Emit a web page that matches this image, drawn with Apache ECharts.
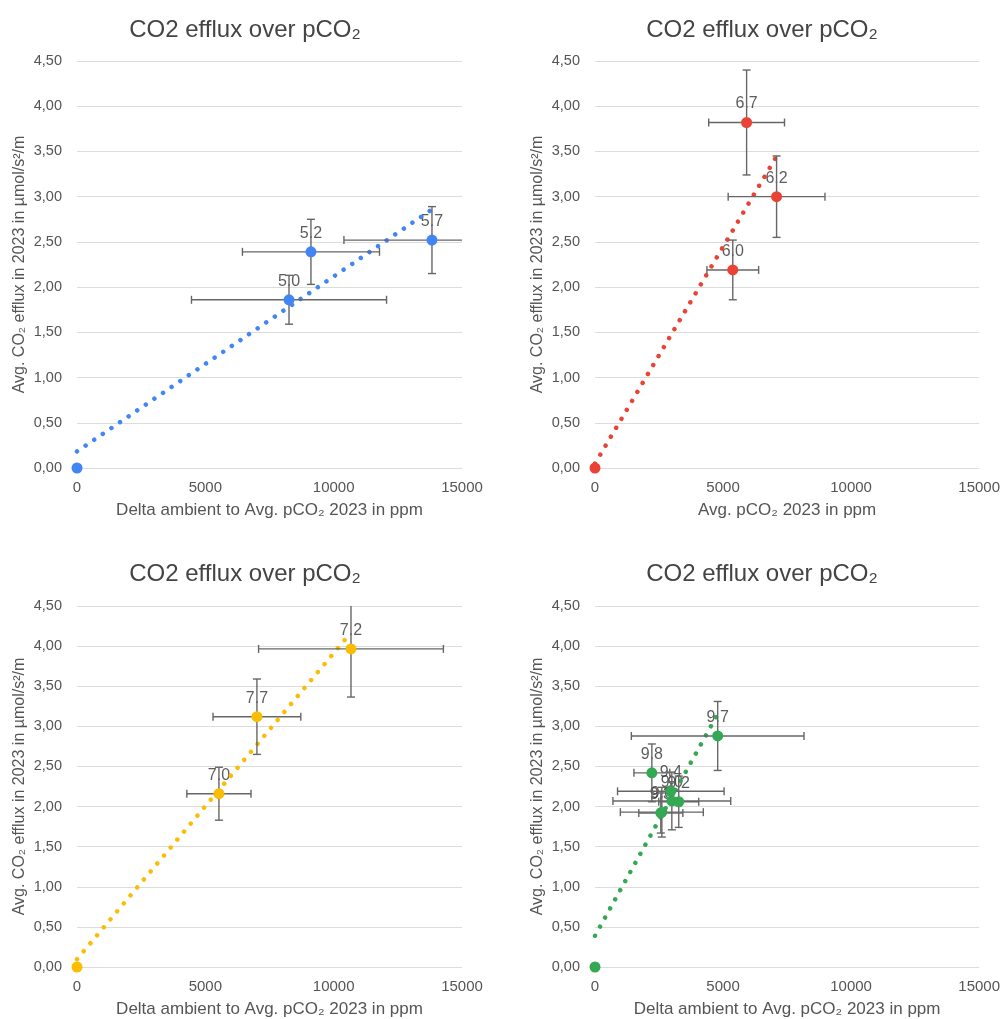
<!DOCTYPE html>
<html>
<head>
<meta charset="utf-8">
<script src="https://cdn.jsdelivr.net/npm/echarts@6/dist/echarts.min.js"></script>
<style>
    html, body { margin: 0; padding: 0; background: #fff; }
    #chart { width: 1003px; height: 1019px; }
</style>
</head>
<body>
<div id="chart"></div>
<script>
// blue panel (top left)
const bluePco2 = [0, 8260, 9115, 13830];
const blueEfflux = [0, 1.86, 2.39, 2.52];
const bluePco2Err = [0, 3800, 2670, 3430];
const blueEffluxErr = [0, 0.27, 0.36, 0.37];
const bluePh = ["", "5.0", "5.2", "5.7"];

// red panel (top right)
const redPco2 = [0, 5380, 7090, 5920];
const redEfflux = [0, 2.19, 3.0, 3.82];
const redPco2Err = [0, 1010, 1890, 1480];
const redEffluxErr = [0, 0.33, 0.45, 0.58];
const redPh = ["", "6.0", "6.2", "6.7"];

// yellow panel (bottom left)
const yellowPco2 = [0, 5530, 7010, 10675];
const yellowEfflux = [0, 2.16, 3.12, 3.965];
const yellowPco2Err = [0, 1250, 1710, 3600];
const yellowEffluxErr = [0, 0.33, 0.47, 0.6];
const yellowPh = ["", "7.0", "7.7", "7.2"];

// green panel (bottom right)
const greenPco2 = [0, 2220, 2960, 3000, 3270, 2610, 2570, 4790];
const greenEfflux = [0, 2.42, 2.19, 2.07, 2.06, 1.93, 1.92, 2.88];
const greenPco2Err = [0, 700, 2080, 2300, 780, 1620, 860, 3370];
const greenEffluxErr = [0, 0.36, 0.12, 0.36, 0.32, 0.31, 0.25, 0.43];
const greenPh = ["", "9.8", "9.4", "9.0", "9.2", "9.6", "9.3", "9.7"];

const xTicks = [0, 15000, 5000];
const yTicks = [0, 4.5, 0.5];

const titleText = "CO2 efflux over pCO\u2082";
const yName = "Avg. CO\u2082 efflux in 2023 in \u00b5mol/s\u00b2/m";
const xNameDelta = "Delta ambient to Avg. pCO\u2082 2023 in ppm";
const xNameAvg = "Avg. pCO\u2082 2023 in ppm";

const font = "'Liberation Sans', Arial, Helvetica, sans-serif";

const panels = [
    { x: bluePco2, y: blueEfflux, xe: bluePco2Err, ye: blueEffluxErr, ph: bluePh, color: "#4285f4", xName: xNameDelta,
      grid: { left: 77, top: 61, width: 385, height: 407 }, titleX: 245, titleY: 30 },
    { x: redPco2, y: redEfflux, xe: redPco2Err, ye: redEffluxErr, ph: redPh, color: "#ea4335", xName: xNameAvg,
      grid: { left: 595, top: 61, width: 385, height: 407 }, titleX: 762, titleY: 30 },
    { x: yellowPco2, y: yellowEfflux, xe: yellowPco2Err, ye: yellowEffluxErr, ph: yellowPh, color: "#fbbc04", xName: xNameDelta,
      grid: { left: 77, top: 606, width: 385, height: 361 }, titleX: 245, titleY: 574 },
    { x: greenPco2, y: greenEfflux, xe: greenPco2Err, ye: greenEffluxErr, ph: greenPh, color: "#34a853", xName: xNameDelta,
      grid: { left: 595, top: 606, width: 385, height: 361 }, titleX: 762, titleY: 574 },
];

// least squares trendline, like the spreadsheet one
function trend(xs, ys) {
    const n = xs.length;
    const mx = xs.reduce((a, b) => a + b, 0) / n;
    const my = ys.reduce((a, b) => a + b, 0) / n;
    let sxy = 0, sxx = 0;
    for (let i = 0; i < n; i++) {
        sxy += (xs[i] - mx) * (ys[i] - my);
        sxx += (xs[i] - mx) * (xs[i] - mx);
    }
    const slope = sxy / sxx;
    const icpt = my - slope * mx;
    const x0 = Math.min(...xs);
    const x1 = Math.max(...xs);
    return [[x0, icpt + slope * x0], [x1, icpt + slope * x1]];
}

const errColor = "#666";

function renderErr(params, api) {
    const x = api.value(0), y = api.value(1), xe = api.value(2), ye = api.value(3);
    const xMin = xTicks[0], xMax = xTicks[1], yMin = yTicks[0], yMax = yTicks[1];
    const children = [];
    const cap = 4;
    const style = { stroke: errColor, lineWidth: 1.4 };
    if (xe > 0) {
        const l = Math.max(xMin, x - xe), r = Math.min(xMax, x + xe);
        const pl = api.coord([l, y]), pr = api.coord([r, y]);
        children.push({ type: "line", shape: { x1: pl[0], y1: pl[1], x2: pr[0], y2: pr[1] }, style });
        if (l === x - xe) children.push({ type: "line", shape: { x1: pl[0], y1: pl[1] - cap, x2: pl[0], y2: pl[1] + cap }, style });
        if (r === x + xe) children.push({ type: "line", shape: { x1: pr[0], y1: pr[1] - cap, x2: pr[0], y2: pr[1] + cap }, style });
    }
    if (ye > 0) {
        const b = Math.max(yMin, y - ye), t = Math.min(yMax, y + ye);
        const pb = api.coord([x, b]), pt = api.coord([x, t]);
        children.push({ type: "line", shape: { x1: pb[0], y1: pb[1], x2: pt[0], y2: pt[1] }, style });
        if (b === y - ye) children.push({ type: "line", shape: { x1: pb[0] - cap, y1: pb[1], x2: pb[0] + cap, y2: pb[1] }, style });
        if (t === y + ye) children.push({ type: "line", shape: { x1: pt[0] - cap, y1: pt[1], x2: pt[0] + cap, y2: pt[1] }, style });
    }
    return { type: "group", children };
}

const grids = [], xAxes = [], yAxes = [], series = [], graphics = [];

panels.forEach((p, i) => {
    grids.push(p.grid);
    graphics.push({
        type: "text",
        x: p.titleX,
        y: p.titleY,
        style: {
            text: titleText,
            fill: "#444",
            font: "24px " + font,
            textAlign: "center",
            textVerticalAlign: "middle",
        },
    });
    xAxes.push({
        type: "value",
        gridIndex: i,
        min: xTicks[0],
        max: xTicks[1],
        interval: xTicks[2],
        name: p.xName,
        nameLocation: "middle",
        nameGap: 34,
        nameTextStyle: { color: "#555", fontSize: 17, fontFamily: font },
        axisLine: { show: false },
        axisTick: { show: false },
        splitLine: { show: false },
        axisLabel: { color: "#555", fontSize: 15, fontFamily: font, margin: 12, formatter: (v) => String(v) },
    });
    yAxes.push({
        type: "value",
        gridIndex: i,
        min: yTicks[0],
        max: yTicks[1],
        interval: yTicks[2],
        name: yName,
        nameLocation: "middle",
        nameGap: 49,
        nameTextStyle: { color: "#555", fontSize: 16, fontFamily: font },
        axisLine: { show: false },
        axisTick: { show: false },
        splitLine: { show: true, lineStyle: { color: "#dcdcdc", width: 1 } },
        axisLabel: {
            color: "#555",
            fontSize: 14.5,
            fontFamily: font,
            margin: 15,
            formatter: (v) => v.toFixed(2).replace(".", ","),
        },
    });

    const pts = p.x.map((xv, k) => [xv, p.y[k]]);

    series.push({
        type: "line",
        xAxisIndex: i,
        yAxisIndex: i,
        z: 2,
        silent: true,
        showSymbol: false,
        data: trend(p.x, p.y),
        lineStyle: { color: p.color, width: 4.5, type: [0.01, 10.4], cap: "round" },
    });

    // transparent points that only carry the labels (under the error bars)
    series.push({
        type: "scatter",
        xAxisIndex: i,
        yAxisIndex: i,
        z: 1,
        silent: true,
        symbolSize: 11,
        itemStyle: { color: "rgba(0,0,0,0)" },
        data: pts.map((v, k) => ({ value: v, name: p.ph[k] })),
        label: {
            show: true,
            position: "top",
            distance: 5,
            color: "#333",
            fontSize: 16,
            fontFamily: font,
            formatter: (d) => d.name,
        },
    });

    series.push({
        type: "custom",
        xAxisIndex: i,
        yAxisIndex: i,
        z: 3,
        silent: true,
        renderItem: renderErr,
        encode: { x: 0, y: 1 },
        data: p.x.map((xv, k) => [xv, p.y[k], p.xe[k], p.ye[k]]),
    });

    series.push({
        type: "scatter",
        xAxisIndex: i,
        yAxisIndex: i,
        z: 4,
        symbolSize: 11,
        itemStyle: { color: p.color, opacity: 1 },
        data: pts,
    });
});

const chart = echarts.init(document.getElementById("chart"), null, { renderer: "canvas" });
chart.setOption({
    backgroundColor: "#fff",
    animation: false,
    textStyle: { fontFamily: font },
    grid: grids,
    xAxis: xAxes,
    yAxis: yAxes,
    graphic: graphics,
    series,
});
</script>
</body>
</html>
